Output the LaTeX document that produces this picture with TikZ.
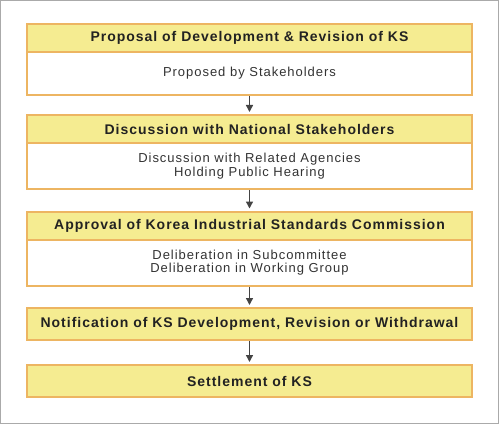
\documentclass[tikz,border=0pt]{standalone}
\usepackage{fontspec}
\setmainfont{Liberation Sans}
\newfontfamily\hdrfont[LetterSpace=7]{Liberation Sans}
\newfontfamily\bodyfont[LetterSpace=7.5]{Liberation Sans}
\usetikzlibrary{arrows.meta}
\definecolor{hdrfill}{HTML}{F5EC91}
\definecolor{boxline}{HTML}{EDB562}
\definecolor{frameline}{HTML}{AAAAAA}
\definecolor{hdrtext}{HTML}{222222}
\definecolor{bodytext}{HTML}{333333}
\definecolor{arrowcol}{HTML}{444444}
\tikzset{
  hdr/.style={draw=boxline, line width=2pt, fill=hdrfill, minimum width=445pt, inner sep=0pt,
    font=\hdrfont\bfseries\fontsize{14pt}{16pt}\selectfont, text=hdrtext, anchor=center},
  bodybox/.style={draw=boxline, line width=2pt, fill=white, minimum width=445pt, inner sep=0pt,
    font=\bodyfont\fontsize{13pt}{13.5pt}\selectfont, text=bodytext, align=center, anchor=center},
  flow/.style={draw=arrowcol, line width=1.4pt, -{Triangle[width=7pt,length=7pt]}, shorten >=2pt}
}
\begin{document}
\begin{tikzpicture}[x=1pt,y=-1pt]
\useasboundingbox (0,0) rectangle (500,425);
\draw[frameline, line width=1pt] (0.5,0.5) rectangle (498.5,423.5);
% box 1
\node[bodybox, minimum height=43pt] (b1) at (249.5,73.5) {Proposed by Stakeholders};
\node[hdr, minimum height=28pt] (h1) at (249.5,38) {Proposal of Development \& Revision of KS};
% box 2
\node[bodybox, minimum height=46pt] (b2) at (249.5,166) {Discussion with Related Agencies\\Holding Public Hearing};
\node[hdr, minimum height=28pt] (h2) at (249.5,129) {Discussion with National Stakeholders};
% box 3
\node[bodybox, minimum height=46.5pt] (b3) at (249.5,262.75) {Deliberation in Subcommittee\\Deliberation in Working Group};
\node[hdr, minimum height=28pt] (h3) at (249.5,225.5) {Approval of Korea Industrial Standards Commission};
% box 4
\node[hdr, minimum height=32pt] (h4) at (249.5,324) {Notification of KS Development, Revision or Withdrawal};
% box 5
\node[hdr, minimum height=32pt] (h5) at (249.5,381) {Settlement of KS};
% arrows
\draw[flow] (b1.south) -- (h2.north);
\draw[flow] (b2.south) -- (h3.north);
\draw[flow] (b3.south) -- (h4.north);
\draw[flow] (h4.south) -- (h5.north);
\end{tikzpicture}
\end{document}
